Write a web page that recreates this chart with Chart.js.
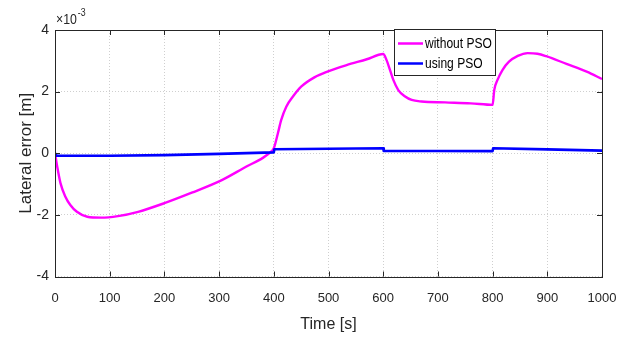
<!DOCTYPE html>
<html>
<head>
<meta charset="utf-8">
<script src="https://cdn.jsdelivr.net/npm/chart.js@4.4.1/dist/chart.umd.min.js"></script>
<style>
  html, body { margin: 0; padding: 0; background: #ffffff; }
  #wrap { width: 644px; height: 338px; }
</style>
</head>
<body>
<div id="wrap"><canvas id="c" width="644" height="338"></canvas></div>
<script>
// Values are in units of 1e-3 m (axis multiplier ×10^-3)
const timeWithout = [0, 4, 10, 19, 28, 40, 59, 84, 115, 152, 200, 250, 305, 350, 380, 395, 400, 407.5, 413.6, 422.8, 435, 450, 475, 498, 533, 570, 600, 606, 612.5, 618.5, 627.6, 640, 652, 670, 713, 760, 800, 803, 809, 818, 830, 846, 864, 882, 898, 935, 972, 1000];
const errorWithoutPSO = [0, -0.43, -0.97, -1.41, -1.68, -1.90, -2.06, -2.09, -2.04, -1.90, -1.62, -1.28, -0.87, -0.43, -0.15, 0.05, 0.16, 0.65, 1.08, 1.51, 1.84, 2.16, 2.47, 2.65, 2.86, 3.05, 3.22, 3.03, 2.7, 2.38, 2.05, 1.84, 1.73, 1.68, 1.65, 1.62, 1.57, 2.05, 2.38, 2.7, 2.97, 3.16, 3.25, 3.23, 3.15, 2.9, 2.65, 2.41];
const timeUsing = [0, 3, 100, 200, 300, 400, 401, 500, 600, 601, 700, 800, 801, 900, 1000];
const errorUsingPSO = [0, -0.08, -0.08, -0.06, -0.02, 0.03, 0.13, 0.145, 0.16, 0.075, 0.075, 0.07, 0.16, 0.125, 0.085];
const seriesNames = ['without PSO', 'using PSO'];
const seriesColors = ['#ff00ff', '#0000ff'];
const xTicks = [0, 100, 200, 300, 400, 500, 600, 700, 800, 900, 1000];
const yTicks = [-4, -2, 0, 2, 4];

const font = "'Liberation Sans', Arial, Helvetica, sans-serif";

const toPts = (xs, ys) => xs.map((x, i) => ({ x: x, y: ys[i] }));

const matlabFrame = {
  id: 'matlabFrame',
  afterDatasetsDraw(chart) {
    const { ctx, chartArea: a, scales } = chart;
    ctx.save();
    // box
    ctx.strokeStyle = '#262626';
    ctx.lineWidth = 1;
    ctx.strokeRect(Math.round(a.left) + 0.5, Math.round(a.top) + 0.5, Math.round(a.right - a.left), Math.round(a.bottom - a.top));
    // inward ticks
    const tl = 5;
    ctx.beginPath();
    xTicks.forEach(v => {
      const x = Math.round(scales.x.getPixelForValue(v)) + 0.5;
      ctx.moveTo(x, a.bottom); ctx.lineTo(x, a.bottom - tl);
      ctx.moveTo(x, a.top); ctx.lineTo(x, a.top + tl);
    });
    yTicks.forEach(v => {
      const y = Math.round(scales.y.getPixelForValue(v)) + 0.5;
      ctx.moveTo(a.left, y); ctx.lineTo(a.left + tl, y);
      ctx.moveTo(a.right, y); ctx.lineTo(a.right - tl, y);
    });
    ctx.stroke();

    // exponent label
    ctx.fillStyle = '#262626';
    ctx.textBaseline = 'alphabetic';
    ctx.textAlign = 'left';
    ctx.save();
    ctx.translate(56, 24);
    ctx.scale(0.88, 1);
    ctx.font = "14px " + font;
    ctx.fillText('\u00d710', 0, 0);
    const w = ctx.measureText('\u00d710').width;
    ctx.font = "10px " + font;
    ctx.fillText('-3', w + 1, -8);
    ctx.restore();

    // legend
    const lx = 394.5, ly = 29.5, lw = 101, lh = 46;
    ctx.fillStyle = '#ffffff';
    ctx.fillRect(lx, ly, lw, lh);
    ctx.strokeStyle = '#262626';
    ctx.lineWidth = 1;
    ctx.strokeRect(lx, ly, lw, lh);
    const rows = [43.5, 63.5];
    rows.forEach((ry, i) => {
      ctx.strokeStyle = seriesColors[i];
      ctx.lineWidth = 2.5;
      ctx.beginPath();
      ctx.moveTo(398, ry); ctx.lineTo(423, ry);
      ctx.stroke();
      ctx.save();
      ctx.translate(425, ry + 1);
      ctx.scale(0.86, 1);
      ctx.font = "14px " + font;
      ctx.textBaseline = 'middle';
      ctx.fillStyle = '#000000';
      ctx.fillText(seriesNames[i], 0, 0);
      ctx.restore();
    });
    ctx.restore();
  }
};

new Chart(document.getElementById('c'), {
  type: 'line',
  data: {
    datasets: [
      {
        label: seriesNames[1],
        data: toPts(timeUsing, errorUsingPSO),
        borderColor: seriesColors[1],
        borderWidth: 2.6,
        borderJoinStyle: 'round',
        pointRadius: 0,
        tension: 0,
        fill: false
      },
      {
        label: seriesNames[0],
        data: toPts(timeWithout, errorWithoutPSO),
        borderColor: seriesColors[0],
        borderWidth: 2.4,
        borderJoinStyle: 'round',
        pointRadius: 0,
        cubicInterpolationMode: 'monotone',
        fill: false
      }
    ]
  },
  options: {
    responsive: false,
    animation: false,
    devicePixelRatio: 1,
    layout: { padding: { left: 0, right: 42, top: 30, bottom: 0 } },
    plugins: { legend: { display: false }, tooltip: { enabled: false } },
    scales: {
      x: {
        type: 'linear',
        min: 0, max: 1000,
        afterBuildTicks: s => { s.ticks = xTicks.map(v => ({ value: v })); },
        afterFit: s => { s.height = 61.5; },
        grid: { color: '#cfcfcf', lineWidth: 1, drawTicks: false },
        border: { display: false, dash: [1, 2] },
        ticks: { color: '#262626', font: { family: font, size: 13 }, padding: 14, maxRotation: 0, autoSkip: false, callback: v => String(v) },
        title: { display: true, text: 'Time [s]', color: '#262626', font: { family: font, size: 16 }, padding: { top: 0, bottom: 4 } }
      },
      y: {
        type: 'linear',
        min: -4, max: 4,
        afterBuildTicks: s => { s.ticks = yTicks.map(v => ({ value: v })); },
        afterFit: s => { s.width = 55; },
        grid: { color: '#cfcfcf', lineWidth: 1, drawTicks: false },
        border: { display: false, dash: [1, 2] },
        ticks: { color: '#262626', font: { family: font, size: 14 }, padding: 6, autoSkip: false, callback: v => String(v) },
        title: { display: true, text: 'Lateral error [m]', color: '#262626', font: { family: font, size: 17 }, padding: { top: 16, bottom: 0 } }
      }
    }
  },
  plugins: [matlabFrame]
});
</script>
</body>
</html>
